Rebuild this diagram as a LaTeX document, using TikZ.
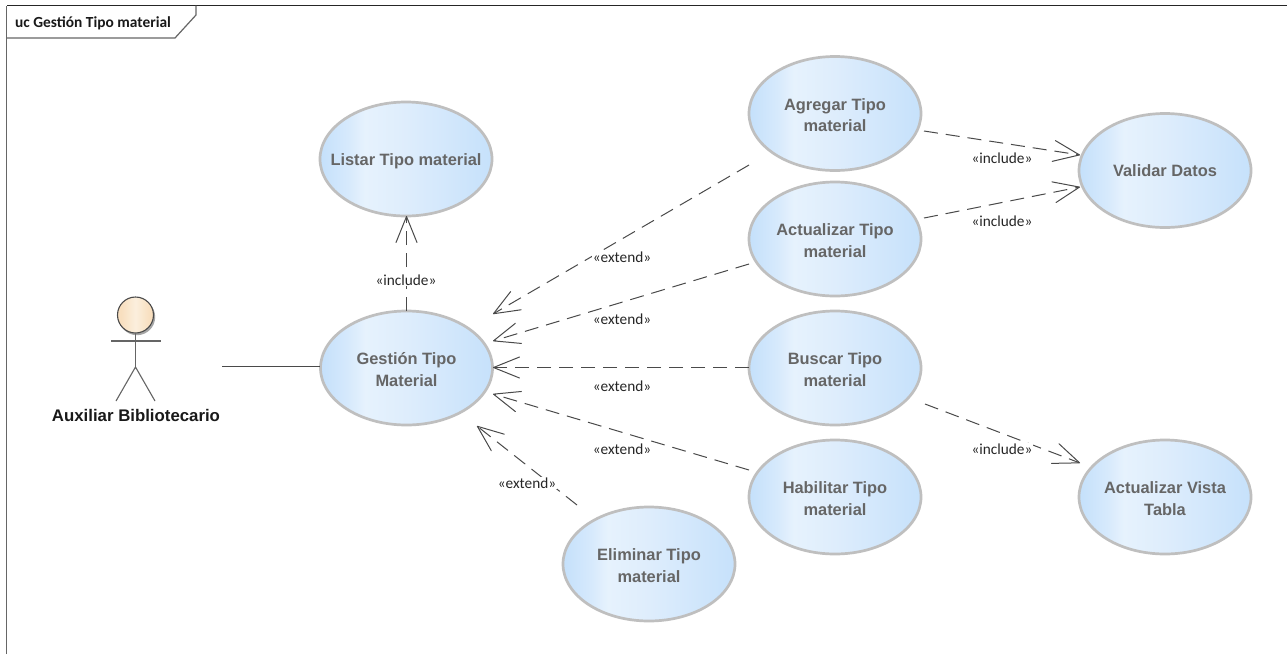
\documentclass[tikz,border=0pt]{standalone}
\usepackage{fontspec}
\setmainfont{Liberation Sans}
\newfontfamily\labelfont{Carlito}
\usetikzlibrary{shapes.geometric,arrows.meta}
\definecolor{uctext}{HTML}{666666}
\definecolor{ucedge}{HTML}{BFBFBF}
\definecolor{linecol}{HTML}{4A4A4A}
\definecolor{ucA}{HTML}{C4E0FB}
\definecolor{ucB}{HTML}{D6E9FC}
\definecolor{ucL}{HTML}{E6F2FD}
\definecolor{ucM}{HTML}{DEEDFC}
\definecolor{ucR}{HTML}{C6E1FB}
\definecolor{headA}{HTML}{F8DFBF}
\definecolor{headB}{HTML}{FBEFDD}
\pgfdeclarehorizontalshading{ucfill}{100bp}{
  color(0bp)=(ucA); color(25bp)=(ucA); color(33bp)=(ucB); color(38bp)=(ucL); color(50bp)=(ucM); color(75bp)=(ucR); color(100bp)=(ucR)}
\pgfdeclarehorizontalshading{headfill}{100bp}{
  color(0bp)=(headA); color(30bp)=(headA); color(50bp)=(headB); color(70bp)=(headA); color(100bp)=(headA)}
\newcommand{\uctxt}[2][-7.4pt]{\makebox[0pt]{\smash{\raisebox{#1}{\begin{tabular}{@{}c@{}}#2\end{tabular}}}}}
\tikzset{
  usecase/.style={ellipse,draw=ucedge,line width=2.7pt,shading=ucfill,minimum width=172pt,minimum height=114pt,inner sep=0pt,text=uctext,font=\fontsize{16.4}{21.5}\selectfont\bfseries},
  dep/.style={draw=linecol,line width=1pt,dash pattern=on 14pt off 8pt,-{Straight Barb[length=26pt,width=21pt,line width=1pt,round=false]}},
  stereo/.style={fill=white,inner sep=1pt,font=\labelfont\fontsize{15.3}{17}\selectfont,text=black!85},
  limb/.style={draw=linecol!85,line width=1.1pt},
}
\begin{document}
\begin{tikzpicture}[x=1pt,y=-1pt]
\useasboundingbox (0,0) rectangle (1287,654);
\fill[white] (0,0) rectangle (1287,654);
% frame
\draw[black!85,line width=1pt] (1287,5.5) -- (6.5,5.5);
\draw[black!60,line width=1.6pt] (6.5,654) -- (6.5,5.5);
\draw[black!60,line width=1.2pt] (6.5,38) -- (175,38) -- (196,15) -- (196,5.5);
\node[anchor=west,inner sep=0pt,font=\labelfont\bfseries\fontsize{15.4}{17}\selectfont,text=black!90] (title) at (15,23) {uc Gestión Tipo material};
% use cases
\node[usecase] (listar) at (406,159) {\uctxt[-6.2pt]{Listar Tipo material}};
\node[usecase] (gestion) at (406.5,368) {\uctxt{Gestión Tipo\\Material}};
\node[usecase] (agregar) at (835,113.5) {\uctxt{Agregar Tipo\\material}};
\node[usecase] (actualizar) at (835,239) {\uctxt{Actualizar Tipo\\material}};
\node[usecase] (buscar) at (835,368) {\uctxt{Buscar Tipo\\material}};
\node[usecase] (habilitar) at (835,497) {\uctxt{Habilitar Tipo\\material}};
\node[usecase] (eliminar) at (649,564) {\uctxt{Eliminar Tipo\\material}};
\node[usecase] (validar) at (1165,170.5) {\uctxt[-6.2pt]{Validar Datos}};
\node[usecase] (vista) at (1165,497) {\uctxt{Actualizar Vista\\Tabla}};
% actor
\fill[black!35] (137,317) circle (18.2);
\node[circle,draw=linecol,line width=1.1pt,shading=headfill,minimum size=36pt,inner sep=0pt] (head) at (135.5,315) {};
\coordinate (armL) at (111,341);
\coordinate (armR) at (160.5,341);
\coordinate (hip) at (135.5,367);
\coordinate (legL) at (116,401);
\coordinate (legR) at (155,401);
\draw[limb] (head) -- (hip);
\draw[limb] (armL) -- (armR);
\draw[limb] (legL) -- (hip) -- (legR);
\node[font=\fontsize{16.8}{19}\selectfont\bfseries,text=black!90,inner sep=0pt] (actor) at (136,415.5) {Auxiliar Bibliotecario};
\coordinate (assoc) at (222,366.5);
\coordinate (assocEnd) at (320,366.5);
\draw[draw=linecol,line width=1.1pt] (assoc) -- (assocEnd);
% free ends
\coordinate (gA) at (493,314);
\coordinate (gB) at (493,341);
\coordinate (gC) at (493,367.5);
\coordinate (bC) at (749,367.5);
\coordinate (gD) at (493,394);
\coordinate (gE) at (477,426);
\coordinate (fA) at (749,165);
\coordinate (fB) at (749,264);
\coordinate (fD) at (749,470);
\coordinate (fE) at (577,505);
\coordinate (vA) at (1080,155);
\coordinate (vB) at (1080,187);
\coordinate (tA) at (924,131);
\coordinate (tB) at (924,218);
\coordinate (tC) at (925,404);
\coordinate (vC) at (1080,463);
\coordinate (gN) at (406.5,311);
\coordinate (lS) at (406.5,216);
% connectors
\draw[dep] (gN) -- (lS);
\draw[dep] (fA) -- (gA);
\draw[dep] (fB) -- (gB);
\draw[dep] (bC) -- (gC);
\draw[dep] (fD) -- (gD);
\draw[dep] (fE) -- (gE);
\draw[dep] (tA) -- (vA);
\draw[dep] (tB) -- (vB);
\draw[dep] (tC) -- (vC);
% labels
\node[stereo] (l1) at (406,280) {«include»};
\node[stereo] (l2) at (622,257) {«extend»};
\node[stereo] (l3) at (622,319) {«extend»};
\node[stereo] (l4) at (622,386) {«extend»};
\node[stereo] (l5) at (622,449) {«extend»};
\node[stereo] (l6) at (527,483) {«extend»};
\node[stereo] (l7) at (1002,158) {«include»};
\node[stereo] (l8) at (1002,221) {«include»};
\node[stereo] (l9) at (1002,449) {«include»};
\end{tikzpicture}
\end{document}
